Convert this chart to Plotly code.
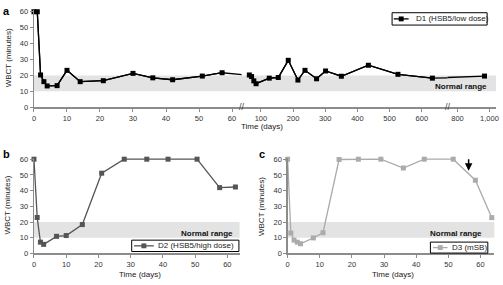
import plotly.graph_objects as go

W, H = 503, 285

# ---------------- data ----------------
# Panel a: D1 (HSB5/low dose)
d1_days = [0, 1, 2, 3, 4, 7, 10, 14, 21, 30, 36, 42, 51, 57,
           64, 71, 78, 85, 126, 154, 185, 215, 237, 273, 301, 350, 434, 526, 633,
           969]
d1_wbct = [60, 60, 20.3, 16.1, 13.4, 13.6, 23.2, 16.1, 16.7, 21.3, 18.5, 17.3, 19.6, 21.7,
           20.3, 19.3, 16.6, 14.8, 18.3, 18.7, 29.5, 17.1, 23.2, 17.9, 22.8, 19.5, 26.4, 20.7, 18.3,
           19.6]

# Panel b: D2 (HSB5/high dose)
d2_days = [0, 1, 2, 3, 7, 10, 15, 21, 28, 35, 41.6, 50.6, 57.6, 62.5]
d2_wbct = [60, 22.9, 7.2, 5.8, 10.9, 11.4, 18.4, 51.1, 60, 60, 60, 60, 41.9, 42.3]

# Panel c: D3 (mSB)
d3_days = [0, 1, 2, 3, 4, 8, 11, 16, 22, 29, 36, 42.5, 51.5, 58.4, 63.5]
d3_wbct = [60, 13.0, 8.5, 7.2, 6.2, 9.9, 13.2, 59.8, 60, 60, 54.4, 60, 60, 46.6, 22.8]
arrow_day, arrow_tip = 56.3, 52.6

normal_low, normal_high = 10, 20

a_ticks_seg1 = [0, 10, 20, 30, 40, 50, 60]
a_ticks_seg2 = [100, 200, 300, 400, 500, 600]
a_ticks_seg3 = [800, 1000]
bc_xticks = [0, 10, 20, 30, 40, 50, 60]
y_ticks = [0, 10, 20, 30, 40, 50, 60]

names = ["D1 (HSB5/low dose)", "D2 (HSB5/high dose)", "D3 (mSB)"]
colors = ["#000000", "#555555", "#ababab"]

FONT = "Arial, Liberation Sans, sans-serif"
AXC = "#8c8c8c"


def px(p):
    return p / W


def py(p):
    return 1 - p / H


fig = go.Figure()

# ---------- panel a: broken x-axis made of three x-axes ----------
a_segments = [
    ("x", (0, 62.9), (32.3, 242), a_ticks_seg1, None),
    ("x2", (40, 680), (242, 450), a_ticks_seg2, None),
    ("x3", (738, 1041), (450, 499), a_ticks_seg3, ",d"),
]
member_bounds = [(-1, 62.9), (62.9, 680), (680, 10000)]
n = len(d1_days)
for k, (xa, rng, span, ticks, fmt) in enumerate(a_segments):
    lo, hi = member_bounds[k]
    idx = [i for i in range(n) if lo < d1_days[i] <= hi]
    line_idx = list(idx)
    if idx[0] - 1 >= 0 and not (rng[0] <= d1_days[idx[0] - 1] <= rng[1]):
        line_idx.insert(0, idx[0] - 1)
    if idx[-1] + 1 < n and not (rng[0] <= d1_days[idx[-1] + 1] <= rng[1]):
        line_idx.append(idx[-1] + 1)
    fig.add_trace(go.Scatter(
        x=[d1_days[i] for i in line_idx], y=[d1_wbct[i] for i in line_idx],
        mode="lines", line=dict(color=colors[0], width=1.3),
        xaxis=xa, yaxis="y", showlegend=False, hoverinfo="skip"))
    fig.add_trace(go.Scatter(
        x=[d1_days[i] for i in idx], y=[d1_wbct[i] for i in idx],
        mode="lines+markers", line=dict(color=colors[0], width=1.3),
        marker=dict(symbol="square", size=5, color=colors[0]),
        cliponaxis=False, xaxis=xa, yaxis="y",
        name=names[0], showlegend=False))

# ---------- panel b ----------
fig.add_trace(go.Scatter(
    x=d2_days, y=d2_wbct, mode="lines+markers",
    line=dict(color=colors[1], width=1.3),
    marker=dict(symbol="square", size=5, color=colors[1]),
    cliponaxis=False, xaxis="x4", yaxis="y2", name=names[1], showlegend=False))

# ---------- panel c ----------
fig.add_trace(go.Scatter(
    x=d3_days, y=d3_wbct, mode="lines+markers",
    line=dict(color=colors[2], width=1.3),
    marker=dict(symbol="square", size=5, color=colors[2]),
    cliponaxis=False, xaxis="x5", yaxis="y3", name=names[2], showlegend=False))

tickfont = dict(family=FONT, size=7.5, color="#333333")


def xaxis_common(domain, rng, ticks, anchor, fmt=None):
    d = dict(domain=[px(domain[0]), px(domain[1])], range=list(rng), tickvals=ticks,
             anchor=anchor, showline=True, linecolor=AXC, linewidth=1.3,
             ticks="outside", ticklen=3, tickcolor=AXC, tickfont=tickfont,
             showgrid=False, zeroline=False, fixedrange=True)
    if fmt:
        d["tickformat"] = fmt
    return d


def yaxis_common(dom_px, anchor):
    return dict(domain=[py(dom_px[0]), py(dom_px[1])], range=[0, 61], tickvals=y_ticks,
                anchor=anchor, showline=True, linecolor=AXC, linewidth=1.3,
                ticks="outside", ticklen=3, tickcolor=AXC, tickfont=tickfont,
                showgrid=False, zeroline=False, fixedrange=True)


layout = dict(
    width=W, height=H, margin=dict(l=0, r=0, t=0, b=0),
    paper_bgcolor="white", plot_bgcolor="rgba(0,0,0,0)",
    font=dict(family=FONT, size=8, color="#222222"),
    showlegend=False, hovermode=False,
)
layout["yaxis"] = yaxis_common((107.3, 7.36), "x")
for k, (xa, rng, span, ticks, fmt) in enumerate(a_segments):
    key = "xaxis" if xa == "x" else "xaxis" + xa[1:]
    layout[key] = xaxis_common(span, rng, ticks, "y", fmt)
layout["yaxis2"] = yaxis_common((257.7, 159.08), "x4")
layout["yaxis3"] = yaxis_common((257.7, 159.08), "x5")
layout["xaxis4"] = xaxis_common((32.3, 240), (0, 63.8), bc_xticks, "y2")
layout["xaxis5"] = xaxis_common((288.5, 497.3), (0, 64.3), bc_xticks, "y3")

fig.update_layout(**layout)

# normal range bands
for (x0, x1, yref) in [(32.3, 499, "y"), (32.3, 240, "y2"), (288.5, 497.3, "y3")]:
    fig.add_shape(type="rect", xref="paper", yref=yref, x0=px(x0), x1=px(x1),
                  y0=normal_low, y1=normal_high, fillcolor="#e3e3e3",
                  line=dict(width=0), layer="below")

# legend boxes (box x0, x1, y0, y1, key line x0, x1, text x) in pixels
legend_boxes = [
    (394, 490, 10, 22.7, 395.7, 410.7, 416.5),
    (131, 239.3, 244, 255.7, 133.3, 153.3, 156),
    (432.7, 490.7, 246, 257.3, 435.3, 450, 452.5),
]
ann = []
for k, (bx0, bx1, by0, by1, lx0, lx1, tx) in enumerate(legend_boxes):
    cy = (by0 + by1) / 2
    fig.add_shape(type="rect", xref="paper", yref="paper", x0=px(bx0), x1=px(bx1),
                  y0=py(by1), y1=py(by0), fillcolor="white",
                  line=dict(color="#000000", width=1), layer="above")
    fig.add_shape(type="line", xref="paper", yref="paper", x0=px(lx0), x1=px(lx1),
                  y0=py(cy), y1=py(cy), line=dict(color=colors[k], width=1.3), layer="above")
    mx = (lx0 + lx1) / 2
    fig.add_shape(type="rect", xref="paper", yref="paper", x0=px(mx - 2.5), x1=px(mx + 2.5),
                  y0=py(cy + 2.5), y1=py(cy - 2.5), fillcolor=colors[k],
                  line=dict(width=0), layer="above")
    ann.append(dict(text=names[k], x=px(tx), y=py(cy), xref="paper", yref="paper",
                    xanchor="left", yanchor="middle", showarrow=False,
                    font=dict(family=FONT, size=8, color="#222222")))

bold = dict(family=FONT, size=8, color="#111111")
for (xr, yref) in [(492.3, "y"), (235.5, "y2"), (486.5, "y3")]:
    ann.append(dict(text="<b>Normal range</b>", x=px(xr), y=13, xref="paper", yref=yref,
                    xanchor="right", yanchor="middle", showarrow=False, font=bold))
for (t, x, y) in [("a", 5, 8), ("b", 5, 155), ("c", 263, 155.5)]:
    ann.append(dict(text="<b>%s</b>" % t, x=px(x), y=py(y), xref="paper", yref="paper",
                    xanchor="center", yanchor="middle", showarrow=False,
                    font=dict(family=FONT, size=11, color="#000000")))
title_font = dict(family=FONT, size=8, color="#222222")
for (x, y) in [(6, 56), (5.5, 208), (261.5, 209)]:
    ann.append(dict(text="WBCT (minutes)", x=px(x), y=py(y), xref="paper", yref="paper",
                    textangle=-90, xanchor="center", yanchor="middle", showarrow=False,
                    font=title_font))
for (x, y) in [(263, 127.5), (139, 279), (395, 279)]:
    ann.append(dict(text="Time (days)", x=px(x), y=py(y), xref="paper", yref="paper",
                    xanchor="center", yanchor="middle", showarrow=False, font=title_font))
for x in [242, 450]:
    ann.append(dict(text="//", x=px(x), y=py(107.3), xref="paper", yref="paper",
                    xanchor="center", yanchor="middle", showarrow=False,
                    font=dict(family=FONT, size=9, color="#444444")))
ann.append(dict(x=arrow_day, y=arrow_tip, xref="x5", yref="y3", ax=0, ay=-13,
                showarrow=True, arrowhead=2, arrowsize=1, arrowwidth=1.5,
                arrowcolor="#000000", text=""))
fig.update_layout(annotations=ann)

fig.write_html("out.html",
               config={"displayModeBar": False, "staticPlot": True},
               post_script="document.body.style.margin='0px';document.body.style.padding='0px';")
